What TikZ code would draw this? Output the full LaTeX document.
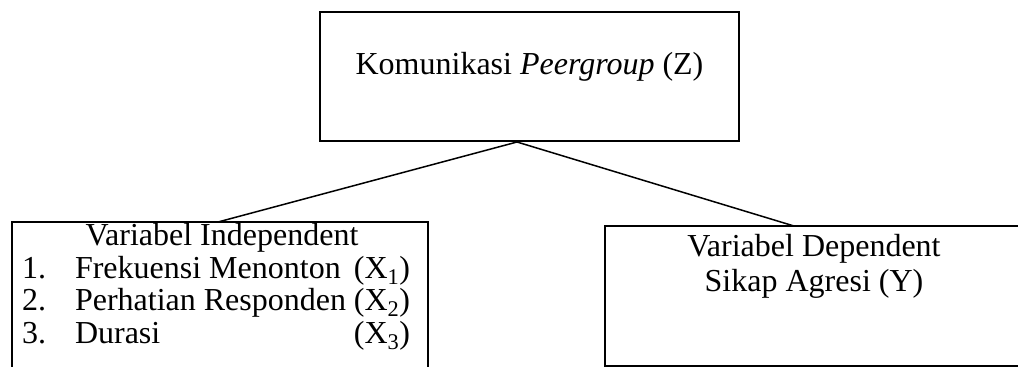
\documentclass[tikz,border=0pt]{standalone}
\usepackage{fontspec}
\setmainfont{Liberation Serif}
\begin{document}
\begin{tikzpicture}[x=1pt,y=-1pt,
  box/.style={draw, line width=1.6pt, inner sep=0pt, outer sep=0pt},
  txt/.style={inner sep=0pt, outer sep=0pt, font=\fontsize{32}{38}\selectfont},
  link/.style={line width=1.5pt}]
\useasboundingbox (0,0) rectangle (1018,367);
\clip (0,0) rectangle (1018,367);
% boxes
\node[box, minimum width=419pt, minimum height=129pt] (top) at (529.5,76.5) {};
\node[box, minimum width=416pt, minimum height=150pt] (left) at (220,297) {};
\node[box, minimum width=417pt, minimum height=140pt] (right) at (813.5,296) {};
% texts
\node[txt, anchor=base] (ttext) at (529.5,74) {Komunikasi \textit{Peergroup} (Z)};
\node[txt, anchor=base] (lhead) at (222,245) {Variabel Independent};
\node[txt, anchor=base west] (n1) at (22,278) {1.};
\node[txt, anchor=base west] (i1) at (75,278) {Frekuensi Menonton};
\node[txt, anchor=base east] (x1) at (410,278) {(X\textsubscript{1})};
\node[txt, anchor=base west] (n2) at (22,310.5) {2.};
\node[txt, anchor=base west] (i2) at (75,310.5) {Perhatian Responden};
\node[txt, anchor=base east] (x2) at (410,310.5) {(X\textsubscript{2})};
\node[txt, anchor=base west] (n3) at (22,343) {3.};
\node[txt, anchor=base west] (i3) at (75,343) {Durasi};
\node[txt, anchor=base east] (x3) at (410,343) {(X\textsubscript{3})};
\node[txt, anchor=base] (rhead) at (814,256) {Variabel Dependent};
\node[txt, anchor=base] (rsub) at (814,291) {Sikap Agresi (Y)};
% connectors
\coordinate (apex) at ([xshift=-12.5pt,yshift=-1pt]top.south);
\draw[link] (apex) -- ([xshift=-2pt]left.north);
\draw[link] (apex) -- ([xshift=-19.5pt]right.north);
\end{tikzpicture}
\end{document}
